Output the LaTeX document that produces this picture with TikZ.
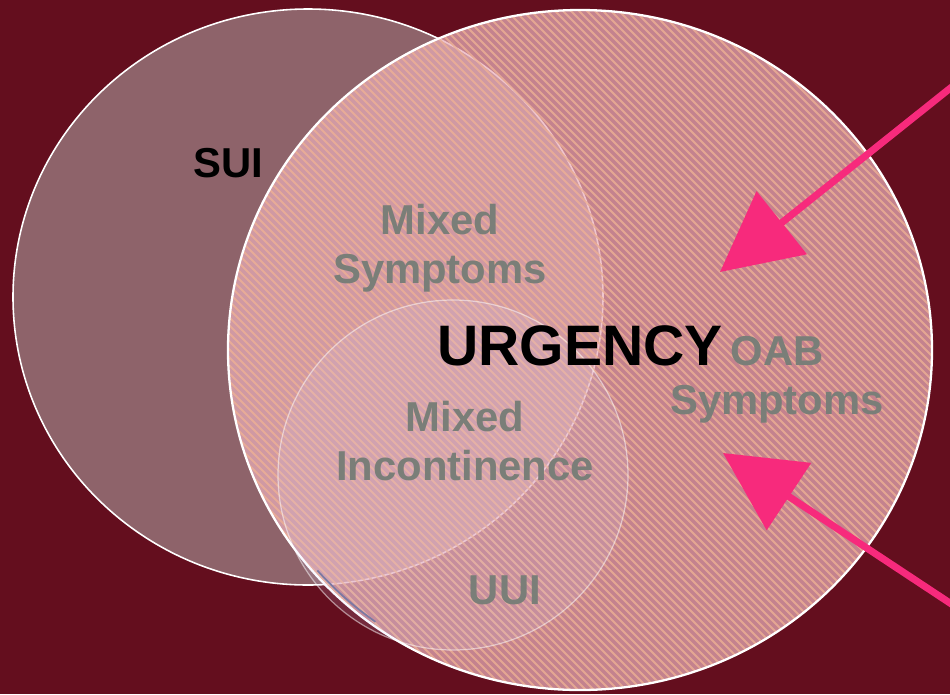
\documentclass[tikz,border=0pt]{standalone}
\usepackage{fontspec}
\setmainfont{Liberation Sans}
\usetikzlibrary{arrows.meta}
\definecolor{bgmaroon}{HTML}{640E1E}
\definecolor{suifill}{HTML}{8E636A}
\definecolor{oabfill}{HTML}{EAAFBA}
\definecolor{hatchcol}{HTML}{EDB094}
\definecolor{labelgrey}{HTML}{7A7E78}
\definecolor{arrowpink}{HTML}{F72A7C}
\definecolor{uuiedge}{HTML}{6C6A94}

\begin{document}
\begin{tikzpicture}[x=0.02cm,y=-0.02cm,
  rim/.style={draw=white,line width=1.3pt},
  hatch/.style={draw=hatchcol,draw opacity=0.8,line width=1.1pt},
  greylabel/.style={text=labelgrey,font=\fontsize{23.8}{28}\selectfont\bfseries,align=center,inner sep=0pt},
  blacklabel/.style={text=black,inner sep=0pt},
  pointer/.style={draw=arrowpink,line width=4pt,-{Triangle[length=45pt,width=45pt]}}]
  \useasboundingbox (0,0) rectangle (950,694);
  \fill[bgmaroon] (0,0) rectangle (950,694);
  \draw[rim,line width=0.9pt,fill=suifill] (308,297) ellipse [x radius=295,y radius=288];
  \fill[oabfill,fill opacity=0.72] (580,350) ellipse [x radius=352,y radius=340];
  \begin{scope}
    \clip (580,350) ellipse [x radius=352,y radius=340];
    \foreach \k in {-720,-712,...,960}
      \draw[hatch] (\k,0) -- ++(720,720);
  \end{scope}
  \draw[uuiedge,line width=1pt] (580,350) ++(126:348 and 336) arc[start angle=126,end angle=139,x radius=348,y radius=336];
  \draw[rim] (580,350) ellipse [x radius=352,y radius=340];
  \draw[draw=white,draw opacity=0.5,line width=0.7pt,fill=white!85!blue,fill opacity=0.14] (453,475) circle [radius=175];
  \node[blacklabel,font=\fontsize{23.8}{28}\selectfont\bfseries] (sui) at (228,163) {SUI};
  \node[greylabel] (mixsym) at (440,248) {Mixed\\Symptoms};
  \node[greylabel] (mixinc) at (465,441) {Mixed\\Incontinence};
  \node[greylabel] (oab) at (777,380) {OAB\\Symptoms};
  \node[greylabel] (uui) at (505,590) {UUI};
  \node[blacklabel,font=\fontsize{32.5}{36}\selectfont\bfseries] (urgency) at (580,346) {URGENCY};
  \coordinate (upper tail) at (958,82);
  \coordinate (upper tip) at (720,272);
  \coordinate (lower tail) at (962,611);
  \coordinate (lower tip) at (723,453);
  \draw[pointer] (upper tail) -- (upper tip);
  \draw[pointer] (lower tail) -- (lower tip);
\end{tikzpicture}
\end{document}
